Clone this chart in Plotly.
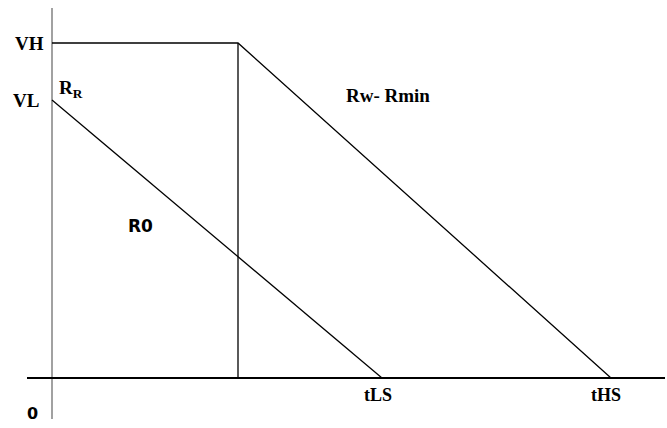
import plotly.graph_objects as go

# values (abstract units, origin at the axes crossing)
level_names = ["VH", "VL"]
level_values = [335, 278]
time_names = ["tLS", "tHS"]
time_values = [330, 559]
switch_time = 186
curve_names = ["R0", "Rw- Rmin"]

VH, VL = level_values
tLS, tHS = time_values

fig = go.Figure()

line_style = dict(color="black", width=1.3)
# R0 line
fig.add_trace(go.Scatter(x=[0, tLS], y=[VL, 0], mode="lines", line=line_style,
                         hoverinfo="skip"))
# Rw - Rmin path
fig.add_trace(go.Scatter(x=[0, switch_time, tHS], y=[VH, VH, 0], mode="lines",
                         line=line_style, hoverinfo="skip"))
# vertical at switch time
fig.add_trace(go.Scatter(x=[switch_time, switch_time], y=[0, VH], mode="lines",
                         line=line_style, hoverinfo="skip"))

# axes drawn as lines
fig.add_shape(type="line", x0=0, x1=0, y0=-41, y1=370,
              line=dict(color="#8a8a8a", width=1.6), layer="below")
fig.add_shape(type="line", x0=-25, x1=613, y0=0, y1=0,
              line=dict(color="black", width=2))

serif = "Liberation Serif"
sans = "DejaVu Sans"
ann = []
ann.append(dict(x=-23, y=VH, text="<b>" + level_names[0] + "</b>",
                font=dict(family=serif, size=19, color="black")))
ann.append(dict(x=-26, y=VL, text="<b>" + level_names[1] + "</b>",
                font=dict(family=serif, size=19, color="black")))
ann.append(dict(x=5, y=VL + 11, text="<b>R<sub>R</sub></b>", xanchor="left",
                font=dict(family=serif, size=19, color="black")))
ann.append(dict(x=88, y=152, text="<b>" + curve_names[0] + "</b>",
                font=dict(family=sans, size=17, color="black")))
ann.append(dict(x=336, y=283, text="<b>" + curve_names[1] + "</b>",
                font=dict(family=serif, size=19, color="black")))
ann.append(dict(x=-19.5, y=-35, text="<b>0</b>",
                font=dict(family=sans, size=16, color="black")))
ann.append(dict(x=tLS - 4, y=-17, text="<b>" + time_names[0] + "</b>",
                font=dict(family=serif, size=18, color="black")))
ann.append(dict(x=tHS - 5, y=-17, text="<b>" + time_names[1] + "</b>",
                font=dict(family=serif, size=18, color="black")))
for a in ann:
    a.setdefault("xanchor", "center")
    a.update(showarrow=False, yanchor="middle")
fig.update_layout(annotations=ann)

fig.update_layout(
    width=667, height=428,
    margin=dict(l=0, r=0, t=0, b=0),
    paper_bgcolor="white", plot_bgcolor="white",
    showlegend=False,
    xaxis=dict(range=[-52, 615], visible=False, fixedrange=True),
    yaxis=dict(range=[-50, 378], visible=False, fixedrange=True),
)

fig.write_html("out.html", config={"displayModeBar": False},
               post_script="document.body.style.margin='0px';")
